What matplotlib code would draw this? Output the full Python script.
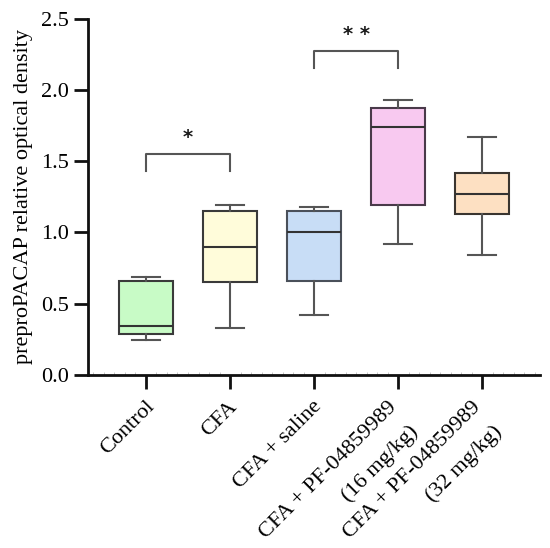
import matplotlib
matplotlib.use("Agg")
import matplotlib.pyplot as plt
from matplotlib.ticker import MultipleLocator
from matplotlib.transforms import ScaledTranslation

plt.rcParams['font.family'] = ['Liberation Serif', 'DejaVu Serif']

categories = ["Control", "CFA", "CFA + saline", "CFA + PF-04859989", "CFA + PF-04859989"]
category_doses = ["", "", "", "(16 mg/kg)", "(32 mg/kg)"]
whisk_low = [0.245, 0.33, 0.42, 0.92, 0.84]
q1 = [0.29, 0.65, 0.66, 1.19, 1.13]
medians = [0.345, 0.90, 1.00, 1.74, 1.27]
q3 = [0.66, 1.15, 1.15, 1.87, 1.42]
whisk_high = [0.69, 1.19, 1.18, 1.93, 1.67]
colors = ["#c8fbc6", "#fffcda", "#c8ddf6", "#f8c9f0", "#fde0c2"]
edge_colors = ["#3a3a3a", "#3a3a3a", "#4a505a", "#4a3a4a", "#3a3530"]
yticks = [0.0, 0.5, 1.0, 1.5, 2.0, 2.5]
sig_pairs = [(0, 1, 1.55, "*"), (2, 3, 2.275, "* *")]

fig = plt.figure(figsize=(5.5, 5.48), dpi=100)
ax = fig.add_axes([0.16, 0.316, 0.822, 0.65])

stats = []
for i in range(len(categories)):
    stats.append(dict(whislo=whisk_low[i], q1=q1[i], med=medians[i], q3=q3[i],
                      whishi=whisk_high[i], fliers=[], label=categories[i]))
bp = ax.bxp(stats, positions=range(len(categories)), widths=0.65, patch_artist=True,
            showfliers=False, capwidths=0.33)
for i, b in enumerate(bp['boxes']):
    b.set_facecolor(colors[i])
    b.set_edgecolor(edge_colors[i])
    b.set_linewidth(1.5)
for m in bp['medians']:
    m.set_color("#333333")
    m.set_linewidth(1.5)
for w in bp['whiskers']:
    w.set_color("#555555")
    w.set_linewidth(1.5)
for c in bp['caps']:
    c.set_color("#555555")
    c.set_linewidth(1.5)

for a, b, y, s in sig_pairs:
    ax.plot([a, a, b, b], [y - 0.12, y, y, y - 0.12], color="#555555", lw=1.5)
    ax.text((a + b) / 2, y + 0.115, s, ha="center", va="center", fontsize=14,
            fontweight="bold", family=['DejaVu Sans'], color="#1a1a1a")

ax.set_xlim(-0.69, 4.69)
ax.set_ylim(0, 2.5)
ax.set_yticks(yticks)
ax.set_yticklabels([f"{v:.1f}" for v in yticks], fontsize=16)
ax.set_xticks(range(len(categories)))
ax.set_xticklabels(categories, rotation=45, ha="right", va="center",
                   rotation_mode="anchor", fontsize=16)
ax.xaxis.set_minor_locator(MultipleLocator(0.125))
ax.tick_params(axis='x', which='minor', length=2, width=0.6, color="#bbbbbb", direction='in')
ax.tick_params(axis='both', which='major', length=10, width=2, color="#111111")
ax.tick_params(axis='x', which='major', pad=0)
ax.set_ylabel("preproPACAP relative optical density", fontsize=16, labelpad=6)
for sp in ["top", "right"]:
    ax.spines[sp].set_visible(False)
for sp in ["left", "bottom"]:
    ax.spines[sp].set_linewidth(2)
    ax.spines[sp].set_color("#111111")

# label offsets in pixels (dx right, dy down) beyond tick length
label_offsets = [(6, 15), (4, 16), (5, 15), (-4, 16), (-4, 16)]
for lab, (dx, dy) in zip(ax.get_xticklabels(), label_offsets):
    lab.set_transform(lab.get_transform() + ScaledTranslation(dx / 100, -dy / 100, fig.dpi_scale_trans))

# second line of the long labels (dose)
for i, dose in enumerate(category_doses):
    if dose:
        ax.annotate(dose, xy=(i, 0), xycoords=('data', 'axes fraction'),
                    xytext=(17 * 0.72, -54 * 0.72), textcoords='offset points',
                    rotation=45, ha="right", va="center", rotation_mode="anchor",
                    fontsize=16, annotation_clip=False)

fig.savefig("out.png", dpi=100)
